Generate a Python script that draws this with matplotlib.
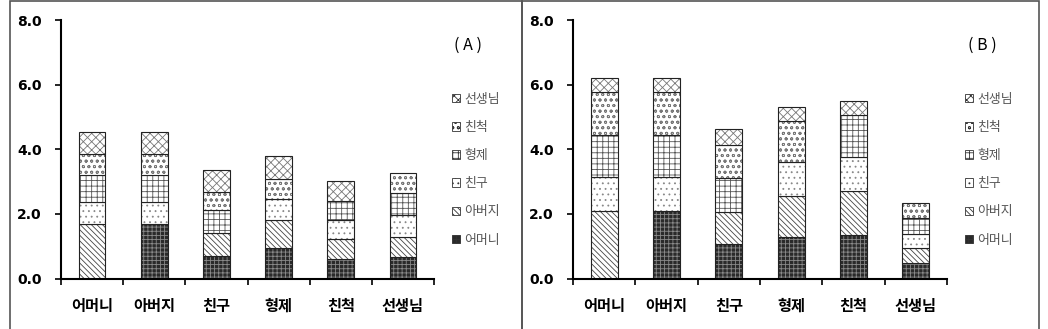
import matplotlib
matplotlib.use("Agg")
import matplotlib.pyplot as plt
import numpy as np
from matplotlib.patches import Patch, Rectangle

plt.rcParams['font.family'] = ['Noto Sans CJK KR', 'DejaVu Sans']
plt.rcParams['hatch.linewidth'] = 0.6

categories = ['어머니', '아버지', '친구', '형제', '친척', '선생님']
series = ['어머니', '아버지', '친구', '형제', '친척', '선생님']

# Panel A: values per series (rows) for each category (columns); self-category = 0
A_mother  = [0.00, 1.68, 0.71, 0.95, 0.60, 0.68]
A_father  = [1.68, 0.00, 0.70, 0.86, 0.61, 0.61]
A_friend  = [0.68, 0.68, 0.00, 0.64, 0.60, 0.68]
A_sibling = [0.85, 0.85, 0.70, 0.00, 0.60, 0.67]
A_relative= [0.65, 0.65, 0.58, 0.62, 0.00, 0.62]
A_teacher = [0.66, 0.66, 0.67, 0.72, 0.62, 0.00]

# Panel B
B_mother  = [0.00, 2.10, 1.06, 1.29, 1.34, 0.49]
B_father  = [2.10, 0.00, 1.01, 1.26, 1.37, 0.45]
B_friend  = [1.04, 1.04, 0.00, 1.05, 1.06, 0.44]
B_sibling = [1.31, 1.31, 1.04, 0.00, 1.29, 0.48]
B_relative= [1.31, 1.31, 1.03, 1.26, 0.00, 0.47]
B_teacher = [0.44, 0.44, 0.48, 0.46, 0.43, 0.00]

panelA = [A_mother, A_father, A_friend, A_sibling, A_relative, A_teacher]
panelB = [B_mother, B_father, B_friend, B_sibling, B_relative, B_teacher]

styles = [
    dict(face='#2a2a2a', hatch='++++', hc='#8a8a8a'),
    dict(face='white', hatch='\\\\\\\\\\\\', hc='#444444'),
    dict(face='white', hatch='...', hc='#888888'),
    dict(face='white', hatch='+++', hc='#555555'),
    dict(face='white', hatch='ooo', hc='#777777'),
    dict(face='white', hatch='xxxx', hc='#777777'),
]

W, H = 1048, 329
fig = plt.figure(figsize=(W / 100, H / 100), dpi=100)

def fx(px):
    return px / W

def fy(py):
    return 1 - py / H

# panel borders
for x0, x1 in [(10, 522), (522, 1039)]:
    fig.add_artist(Rectangle((fx(x0), fy(H + 5)), fx(x1) - fx(x0), fy(1) - fy(H + 5),
                             transform=fig.transFigure, fill=False,
                             edgecolor='#555555', linewidth=1.2, clip_on=False))

def draw_panel(ax_left, ax_right, data, title, title_x, leg_x):
    ax = fig.add_axes([fx(ax_left), fy(278.5), fx(ax_right) - fx(ax_left), fy(20) - fy(278.5)])
    x = np.arange(len(categories))
    bottom = np.zeros(len(categories))
    for vals, st in zip(data, styles):
        v = np.array(vals)
        mask = v > 0
        ax.bar(x[mask], v[mask], width=0.43, bottom=bottom[mask], color=st['face'],
               edgecolor=st['hc'], hatch=st['hatch'], linewidth=0)
        ax.bar(x[mask], v[mask], width=0.43, bottom=bottom[mask], fill=False,
               edgecolor='#222222', linewidth=0.8)
        bottom += v
    ax.set_xlim(-0.5, 5.5)
    ax.set_ylim(0, 8)
    ax.set_yticks([0, 2, 4, 6, 8])
    ax.set_yticklabels(['%.1f' % t for t in [0, 2, 4, 6, 8]], fontweight='bold',
                       fontsize=10, family=['DejaVu Sans'])
    ax.set_xticks(x)
    ax.set_xticklabels(categories, fontsize=11, fontweight='bold')
    ax.tick_params(axis='x', which='major', length=0, pad=14)
    ax.set_xticks(np.arange(-0.5, 6, 1), minor=True)
    ax.tick_params(axis='x', which='minor', length=4, width=1.2, direction='out')
    ax.tick_params(axis='y', length=4, width=1.2, direction='out', pad=10)
    for s in ['top', 'right']:
        ax.spines[s].set_visible(False)
    for s in ['left', 'bottom']:
        ax.spines[s].set_linewidth(1.5)
    fig.text(fx(title_x), fy(45), title, ha='center', va='center', fontsize=11.5)
    handles = [Patch(facecolor=st['face'], edgecolor='#333333', hatch=st['hatch'],
                     linewidth=0.6) for st in styles]
    leg = fig.legend(handles[::-1], series[::-1], loc='upper left',
                     bbox_to_anchor=(fx(leg_x), fy(92.5)), frameon=False,
                     fontsize=9.3, handlelength=0.65, handleheight=0.65,
                     handletextpad=0.3, labelspacing=1.18, borderpad=0,
                     borderaxespad=0)
    for t in leg.get_texts():
        t.set_color('#555555')
    return ax

draw_panel(61, 434, panelA, '( A )', 468, 452)
draw_panel(573, 947, panelB, '( B )', 982, 965)

fig.savefig('out.png', dpi=100)
